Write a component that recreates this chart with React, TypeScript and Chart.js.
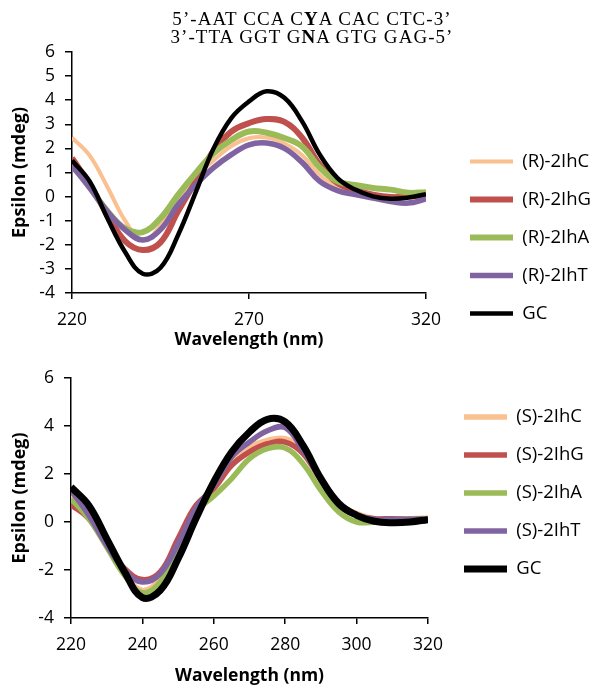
import React, { useEffect, useRef } from "react";
import { Chart, registerables } from "chart.js";

Chart.register(...registerables);

// ---------- data ----------
const wavelengths = [220, 225, 230, 235, 240, 245, 250, 255, 260, 265, 270, 275, 280, 285, 290, 295, 300, 305, 310, 315, 320];

const namesTop = ["(R)-2IhC", "(R)-2IhG", "(R)-2IhA", "(R)-2IhT", "GC"];
const namesBottom = ["(S)-2IhC", "(S)-2IhG", "(S)-2IhA", "(S)-2IhT", "GC"];
const seriesColors = ["#FAC08F", "#C0504D", "#9BBB59", "#8064A2", "#000000"];

// top panel (R)
const topC = [2.45, 1.7, 0.4, -1.0, -1.82, -1.2, -0.1, 0.82, 1.5, 2.1, 2.42, 2.45, 2.2, 1.72, 0.9, 0.38, 0.22, 0.08, 0.02, 0.02, 0.08];
const topG = [1.6, 0.5, -0.75, -1.85, -2.22, -1.9, -0.6, 0.65, 1.9, 2.7, 3.05, 3.22, 3.1, 2.45, 1.32, 0.56, 0.28, 0.08, -0.02, 0.0, 0.08];
const topA = [1.4, 0.38, -0.6, -1.32, -1.47, -0.9, 0.08, 0.98, 1.8, 2.35, 2.7, 2.65, 2.43, 2.08, 1.2, 0.63, 0.48, 0.36, 0.29, 0.16, 0.18];
const topT = [1.28, 0.36, -0.62, -1.38, -1.8, -1.37, -0.33, 0.5, 1.2, 1.74, 2.15, 2.22, 2.0, 1.42, 0.63, 0.25, 0.08, -0.06, -0.2, -0.27, -0.1];
const topGC = [1.5, 0.63, -0.9, -2.3, -3.2, -2.95, -1.58, 0.2, 2.0, 3.26, 3.95, 4.37, 4.1, 3.12, 1.74, 0.77, 0.29, 0.01, -0.09, -0.04, 0.1];

// bottom panel (S)
const botC = [1.1, 0.28, -0.9, -2.15, -2.85, -2.36, -0.97, 0.56, 1.53, 2.57, 3.12, 3.4, 3.47, 3.06, 1.81, 0.76, 0.35, 0.14, 0.14, 0.14, 0.17];
const botG = [0.72, 0.14, -0.97, -1.94, -2.4, -2.08, -0.69, 0.69, 1.39, 2.36, 2.92, 3.26, 3.33, 2.85, 1.74, 0.69, 0.28, 0.14, 0.14, 0.11, 0.11];
const botA = [0.97, 0.14, -1.04, -2.22, -2.95, -2.5, -1.11, 0.42, 1.08, 1.81, 2.64, 3.06, 3.08, 2.43, 1.32, 0.42, 0.0, 0.0, 0.07, 0.11, 0.14];
const botT = [1.32, 0.28, -0.97, -2.01, -2.5, -2.15, -0.9, 0.56, 1.53, 2.71, 3.33, 3.8, 3.93, 2.99, 1.81, 0.83, 0.31, 0.11, 0.11, 0.11, 0.14];
const botGC = [1.46, 0.69, -0.69, -2.08, -3.15, -2.85, -1.53, 0.14, 1.67, 2.92, 3.75, 4.28, 4.17, 3.19, 1.81, 0.76, 0.28, 0.03, -0.03, 0.0, 0.1];

const topYTicks = [-4, -3, -2, -1, 0, 1, 2, 3, 4, 5, 6];
const topXTicks = [220, 270, 320];
const botYTicks = [-4, -2, 0, 2, 4, 6];
const botXTicks = [220, 240, 260, 280, 300, 320];

const topWidths = [4, 6, 6, 5.5, 4.5];
const botWidths = [5.5, 5.5, 5.5, 5.5, 7];

const FONT = "'Open Sans', 'DejaVu Sans', sans-serif";

type PanelProps = {
  top: number;
  height: number;
  names: string[];
  series: number[][];
  widths: number[];
  xTicks: number[];
  yTicks: number[];
  padTopH: number;
  padRightW: number;
  yAxisW: number;
  xAxisH: number;
  xTitlePadBottom: number;
  layoutRight: number;
};

function Panel(p: PanelProps) {
  const ref = useRef<HTMLCanvasElement | null>(null);
  useEffect(() => {
    if (!ref.current) return;
    const order = [4, 3, 2, 1, 0];
    const datasets = order.map((i) => ({
      label: p.names[i],
      data: wavelengths.map((x, k) => ({ x, y: p.series[i][k] })),
      borderColor: seriesColors[i],
      backgroundColor: seriesColors[i],
      borderWidth: p.widths[i],
      pointRadius: 0,
      tension: 0.4,
      fill: false,
      xAxisID: "x",
      yAxisID: "y",
    }));
    const tickFont = { family: FONT, size: 17.5 };
    const legendFont = { family: FONT, size: 18.5 };
    const titleFont = { family: FONT, size: 17.5, weight: "bold" as const };
    const chart = new Chart(ref.current, {
      type: "line",
      data: { datasets },
      options: {
        animation: false,
        responsive: false,
        devicePixelRatio: 1,
        layout: { padding: { left: 0, top: 0, bottom: 0, right: p.layoutRight } },
        plugins: {
          tooltip: { enabled: false },
          legend: {
            position: "right",
            reverse: true,
            maxWidth: 140,
            labels: {
              usePointStyle: true,
              pointStyle: "line",
              pointStyleWidth: 43,
              padding: 19.5,
              color: "#000",
              font: legendFont,
            },
          },
        },
        scales: {
          x: {
            type: "linear",
            position: "bottom",
            min: 220,
            max: 320,
            afterBuildTicks: (s: any) => {
              s.ticks = p.xTicks.map((v) => ({ value: v }));
            },
            afterFit: (s: any) => {
              s.height = p.xAxisH;
            },
            grid: { display: true, drawOnChartArea: false, drawTicks: true, tickLength: 6, color: "#000", lineWidth: 1.5 },
            border: { display: true, color: "#000", width: 1.5 },
            ticks: { padding: 11, color: "#000", font: tickFont, maxRotation: 0, autoSkip: false },
            title: {
              display: true,
              text: "Wavelength (nm)",
              color: "#000",
              font: titleFont,
              padding: { top: 0, bottom: p.xTitlePadBottom },
            },
          },
          y: {
            type: "linear",
            position: "left",
            min: -4,
            max: 6,
            afterBuildTicks: (s: any) => {
              s.ticks = p.yTicks.map((v) => ({ value: v }));
            },
            afterFit: (s: any) => {
              s.width = p.yAxisW;
            },
            grid: { display: true, drawOnChartArea: false, drawTicks: true, tickLength: 7, color: "#000", lineWidth: 1.5 },
            border: { display: true, color: "#000", width: 1.5 },
            ticks: { padding: 10, color: "#000", font: tickFont, autoSkip: false },
            title: {
              display: true,
              text: "Epsilon (mdeg)",
              color: "#000",
              font: { family: FONT, size: 18, weight: "bold" as const },
              padding: { top: 9, bottom: 0 },
            },
          },
          padTop: {
            type: "linear",
            position: "top",
            display: true,
            grid: { display: false },
            ticks: { display: false },
            border: { display: false },
            afterFit: (s: any) => {
              s.height = p.padTopH;
            },
          },
          padRight: {
            type: "linear",
            position: "right",
            display: true,
            grid: { display: false },
            ticks: { display: false },
            border: { display: false },
            afterFit: (s: any) => {
              s.width = p.padRightW;
            },
          },
        },
      } as any,
    });
    return () => chart.destroy();
  }, []);
  return (
    <canvas
      ref={ref}
      width={596}
      height={p.height}
      style={{ position: "absolute", left: 0, top: p.top, width: 596, height: p.height }}
    />
  );
}

const titleStyle: React.CSSProperties = {
  position: "absolute",
  left: 0,
  width: 624,
  textAlign: "center",
  fontFamily: "'Liberation Serif', 'Times New Roman', serif",
  fontSize: 19,
  lineHeight: "17.5px",
  letterSpacing: "1.05px",
  color: "#000",
  whiteSpace: "nowrap",
};

export default function App() {
  return (
    <div style={{ position: "absolute", left: 0, top: 0, width: 596, height: 696, background: "#fff", overflow: "hidden" }}>
      <Panel
        top={0}
        height={475}
        names={namesTop}
        series={[topC, topG, topA, topT, topGC]}
        widths={topWidths}
        xTicks={topXTicks}
        yTicks={topYTicks}
        padTopH={52}
        padRightW={24.5}
        yAxisW={72}
        xAxisH={182}
        xTitlePadBottom={124}
        layoutRight={5.5}
      />
      <Panel
        top={290}
        height={406}
        names={namesBottom}
        series={[botC, botG, botA, botT, botGC]}
        widths={botWidths}
        xTicks={botXTicks}
        yTicks={botYTicks}
        padTopH={88}
        padRightW={16.5}
        yAxisW={71}
        xAxisH={78}
        xTitlePadBottom={9}
        layoutRight={11.5}
      />
      <div style={{ ...titleStyle, top: 10 }}>
        5’-AAT CCA C<b>Y</b>A CAC CTC-3’
      </div>
      <div style={{ ...titleStyle, top: 27.5 }}>
        3’-TTA GGT G<b>N</b>A GTG GAG-5’
      </div>
    </div>
  );
}
